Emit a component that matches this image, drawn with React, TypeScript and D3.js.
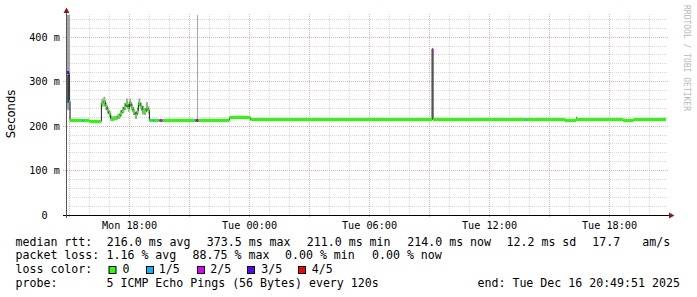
import React from "react";
import * as d3 from "d3";

// ---- time range ----
const START = "2025-12-15 14:49:51";
const END = "2025-12-16 20:49:51";

// ---- median rtt (step series: value holds until next time) ----
const medianTimes = [
  "2025-12-15 14:50", "2025-12-15 14:59", "2025-12-15 15:02", "2025-12-15 15:38",
  "2025-12-15 15:42", "2025-12-15 16:00", "2025-12-15 16:36", "2025-12-15 16:42",
  "2025-12-15 16:48", "2025-12-15 16:53", "2025-12-15 16:58", "2025-12-15 17:04",
  "2025-12-15 17:14", "2025-12-15 17:24", "2025-12-15 17:32", "2025-12-15 17:38",
  "2025-12-15 17:44", "2025-12-15 17:50", "2025-12-15 17:56", "2025-12-15 18:00",
  "2025-12-15 18:05", "2025-12-15 18:11", "2025-12-15 18:17", "2025-12-15 18:23",
  "2025-12-15 18:27", "2025-12-15 18:33", "2025-12-15 18:38", "2025-12-15 18:44",
  "2025-12-15 18:50", "2025-12-15 18:56", "2025-12-15 19:00", "2025-12-15 19:10",
  "2025-12-15 19:14", "2025-12-15 19:30", "2025-12-15 19:40", "2025-12-15 21:15",
  "2025-12-15 21:20", "2025-12-15 21:26", "2025-12-15 21:29", "2025-12-15 23:00",
  "2025-12-16 00:04", "2025-12-16 09:08", "2025-12-16 09:11", "2025-12-16 13:48",
  "2025-12-16 13:52", "2025-12-16 15:47", "2025-12-16 16:20", "2025-12-16 18:42",
  "2025-12-16 19:12",
];
const medianMs = [
  320, 256, 213, 213,
  212, 211, 252, 256,
  246, 236, 228, 216,
  218, 221, 229, 236,
  243, 250, 239, 254,
  243, 232, 225, 234,
  252, 245, 234, 232,
  241, 236, 213, 213,
  213, 213, 212, 213,
  213, 213, 213.5, 218.5,
  214, 373.5, 214, 214,
  214, 212.5, 214, 212.5,
  214,
];
const medianLoss = [
  3, 1, 0, 1,
  0, 0, 0, 0,
  0, 0, 0, 0,
  0, 0, 0, 0,
  0, 0, 0, 0,
  0, 0, 0, 0,
  0, 0, 0, 0,
  0, 0, 0, 1,
  0, 2, 0, 1,
  4, 1, 0, 0,
  0, 2, 0, 1,
  0, 0, 0, 0,
  0,
];

// ---- smoke: outer band (min..max ping), null = nothing visible ----
const smokeTimes = [
  "2025-12-15 14:50", "2025-12-15 15:02", "2025-12-15 16:36", "2025-12-15 16:42",
  "2025-12-15 16:48", "2025-12-15 16:53", "2025-12-15 16:58", "2025-12-15 17:04",
  "2025-12-15 17:14", "2025-12-15 17:24", "2025-12-15 17:32", "2025-12-15 17:38",
  "2025-12-15 17:44", "2025-12-15 17:50", "2025-12-15 17:56", "2025-12-15 18:00",
  "2025-12-15 18:05", "2025-12-15 18:11", "2025-12-15 18:17", "2025-12-15 18:23",
  "2025-12-15 18:27", "2025-12-15 18:33", "2025-12-15 18:38", "2025-12-15 18:44",
  "2025-12-15 18:50", "2025-12-15 18:56", "2025-12-15 19:00", "2025-12-15 21:23",
  "2025-12-15 21:26", "2025-12-16 14:00", "2025-12-16 14:02",
];
const smokeLo = [
  236, null, 244, 244,
  236, 228, 220, 212,
  213, 216, 222, 229,
  236, 243, 232, 246,
  236, 225, 216, 227,
  244, 238, 226, 225,
  233, 229, null, 213,
  null, 214, null,
];
const smokeHi = [
  460, null, 262, 266,
  252, 242, 234, 222,
  223, 227, 236, 243,
  252, 262, 246, 262,
  250, 238, 232, 242,
  262, 252, 246, 240,
  254, 244, null, 470,
  null, 219, null,
];

// ---- smoke: inner band (2nd..4th ping) ----
const innerTimes = ["2025-12-15 14:53", "2025-12-15 15:02", "2025-12-16 16:20", "2025-12-16 16:23"];
const innerLo = [252, null, 214, null];
const innerHi = [315, null, 221, null];

// ---- loss legend ----
const lossLabels = ["0", "1/5", "2/5", "3/5", "4/5"];
const lossColors = ["#26ff00", "#00b8ff", "#dd00ff", "#5e00ff", "#ff0000"];

// ---- axes ----
const yTickValues = [0, 100, 200, 300, 400];
const yTickLabels = ["0", "100 m", "200 m", "300 m", "400 m"];
const xTickTimes = ["2025-12-15 18:00", "2025-12-16 00:00", "2025-12-16 06:00", "2025-12-16 12:00", "2025-12-16 18:00"];

// ---- legend texts ----
const rttLine = ["median rtt:", "216.0 ms avg", "373.5 ms max", "211.0 ms min", "214.0 ms now", "12.2 ms sd", "17.7", "am/s"];
const lossLine = ["packet loss:", "1.16 % avg", "88.75 % max", "0.00 % min", "0.00 % now"];
const probeLine = ["probe:", "5 ICMP Echo Pings (56 Bytes) every 120s"];
const endText = "end: Tue Dec 16 20:49:51 2025";

const parseM = d3.timeParse("%Y-%m-%d %H:%M");
const parseS = d3.timeParse("%Y-%m-%d %H:%M:%S");

export default function App() {
  const start = parseS(START) as Date;
  const end = parseS(END) as Date;
  const xs = d3.scaleTime().domain([start, end]).range([66, 666]);
  const ys = d3.scaleLinear().domain([0, 450]).range([215, 15]).clamp(true);
  const px = (v: number) => Math.floor(v) + 0.5;

  const mt = medianTimes.map((s) => parseM(s) as Date);
  const mPts: [Date, number][] = mt.map((t, i) => [t, medianMs[i]]);
  mPts.push([end, medianMs[medianMs.length - 1]]);
  const line = d3
    .line<[Date, number]>()
    .x((d) => xs(d[0]))
    .y((d) => ys(d[1]))
    .curve(d3.curveStepAfter);

  const segs = (times: string[], lo: (number | null)[], hi: (number | null)[]) => {
    const tt = times.map((s) => parseM(s) as Date);
    const out: { x0: number; x1: number; y0: number; y1: number }[] = [];
    tt.forEach((t, i) => {
      const l = lo[i];
      const h = hi[i];
      if (l == null || h == null) return;
      const t1 = i + 1 < tt.length ? tt[i + 1] : end;
      out.push({ x0: xs(t), x1: xs(t1), y0: ys(h), y1: ys(l) });
    });
    return out;
  };
  const outer = segs(smokeTimes, smokeLo, smokeHi);
  const inner = segs(innerTimes, innerLo, innerHi);

  const hours = d3.timeHour.range(d3.timeHour.ceil(start), end);
  const minorV = hours.filter((h) => h.getHours() % 3 !== 0);
  const majorV = hours.filter((h) => h.getHours() % 3 === 0);
  const minorH = d3.range(20, 450, 20).filter((v) => v % 100 !== 0);
  const fmt = d3.timeFormat("%a %H:%M");

  const gridMinor = "rgba(186,186,186,0.55)";
  const gridMajor = "rgba(220,120,120,0.6)";
  const mono = "'DejaVu Sans Mono', monospace";
  const arrow = "#8b1a1a";

  const legendY = [245.5, 259.3, 273.1, 286.9];
  const rttX = [15.5, 106.8, 206.8, 306.8, 407.3, 506.5, 592.3, 642.2];
  const lossX = [15.5, 106.5, 192.6, 285, 372];
  const boxX = [109, 146.5, 197.5, 247.5, 298.5];
  const boxLabelX = [122.5, 158.8, 210.3, 261.2, 311.8];

  return (
    <svg
      width={697}
      height={297}
      style={{ position: "absolute", left: 0, top: 0, background: "#fff" }}
      fontFamily={mono}
    >
      <rect x={0} y={0} width={697} height={297} fill="#fff" />
      {/* grid */}
      {minorH.map((v) => (
        <line key={"mh" + v} x1={66} x2={668} y1={px(ys(v))} y2={px(ys(v))} stroke={gridMinor} strokeDasharray="1 1" />
      ))}
      {minorV.map((h) => (
        <line key={"mv" + +h} x1={px(xs(h))} x2={px(xs(h))} y1={14} y2={215} stroke={gridMinor} strokeDasharray="1 1" />
      ))}
      {yTickValues.filter((v) => v > 0).map((v) => (
        <line key={"Mh" + v} x1={63} x2={668} y1={px(ys(v))} y2={px(ys(v))} stroke={gridMajor} strokeDasharray="1 1" />
      ))}
      {majorV.map((h) => (
        <line key={"Mv" + +h} x1={px(xs(h))} x2={px(xs(h))} y1={14} y2={218} stroke={gridMajor} strokeDasharray="1 1" />
      ))}

      {/* smoke */}
      {outer.map((s, i) => (
        <rect key={"so" + i} x={s.x0} y={s.y0} width={Math.max(0.8, s.x1 - s.x0)} height={s.y1 - s.y0} fill="#a4a4a4" />
      ))}
      {inner.map((s, i) => (
        <rect key={"si" + i} x={s.x0} y={s.y0} width={Math.max(0.8, s.x1 - s.x0)} height={s.y1 - s.y0} fill="#585858" />
      ))}

      {/* median line */}
      <path d={line(mPts) || ""} fill="none" stroke="#202020" strokeWidth={1} />

      {/* loss-coloured median band */}
      {mt.map((t, i) => {
        const t1 = i + 1 < mt.length ? mt[i + 1] : end;
        const yc = ys(medianMs[i]);
        return (
          <rect
            key={"b" + i}
            x={xs(t)}
            y={Math.round(yc - 1.5)}
            width={Math.max(0.7, xs(t1) - xs(t))}
            height={3}
            fill={lossColors[medianLoss[i]]}
          />
        );
      })}

      {/* axes */}
      <line x1={63} x2={669} y1={215.5} y2={215.5} stroke="#000" />
      <polygon points="669,212.5 674.5,215.5 669,218.5" fill={arrow} />
      <line x1={66.5} x2={66.5} y1={218} y2={13} stroke="#555" />
      <polygon points="63.5,13 66.5,7.5 69.5,13" fill={arrow} />

      {/* y tick labels */}
      {yTickValues.map((v, i) => (
        <text
          key={"yl" + v}
          x={59.8}
          y={px(ys(v)) + 3.3}
          fontSize={10.2}
          textAnchor="end"
          style={{ whiteSpace: "pre" }}
          fill="#000"
        >
          {yTickLabels[i].includes(" ") ? yTickLabels[i] : yTickLabels[i].padStart(3).padEnd(5)}
        </text>
      ))}
      {/* x tick labels */}
      {xTickTimes.map((s) => {
        const t = parseM(s) as Date;
        return (
          <text key={"xl" + s} x={px(xs(t))} y={228.5} fontSize={10.2} textAnchor="middle" fill="#000">
            {fmt(t)}
          </text>
        );
      })}

      {/* y axis title */}
      <text
        transform="translate(15.3,114) rotate(-90)"
        textAnchor="middle"
        fontFamily="'DejaVu Sans', sans-serif"
        fontSize={11.6}
        fill="#000"
      >
        Seconds
      </text>

      {/* watermark */}
      <text transform="translate(683.5,5) rotate(90)" fontSize={8} fill="#b8b8b8">
        RRDTOOL / TOBI OETIKER
      </text>

      {/* legend */}
      <g fontSize={11.6} fill="#000" style={{ whiteSpace: "pre" }}>
        {rttLine.map((s, i) => (
          <text key={"r" + i} x={rttX[i]} y={legendY[0]}>{s}</text>
        ))}
        {lossLine.map((s, i) => (
          <text key={"l" + i} x={lossX[i]} y={legendY[1]}>{s}</text>
        ))}
        <text x={15.5} y={legendY[2]}>loss color:</text>
        {lossLabels.map((s, i) => (
          <g key={"lc" + i}>
            <rect x={boxX[i]} y={266.5} width={7} height={7} fill={lossColors[i]} stroke="#000" strokeWidth={1} />
            <text x={boxLabelX[i]} y={legendY[2]}>{s}</text>
          </g>
        ))}
        <text x={15.5} y={legendY[3]}>{probeLine[0]}</text>
        <text x={106.5} y={legendY[3]}>{probeLine[1]}</text>
        <text x={477.5} y={legendY[3]}>{endText}</text>
      </g>
    </svg>
  );
}
